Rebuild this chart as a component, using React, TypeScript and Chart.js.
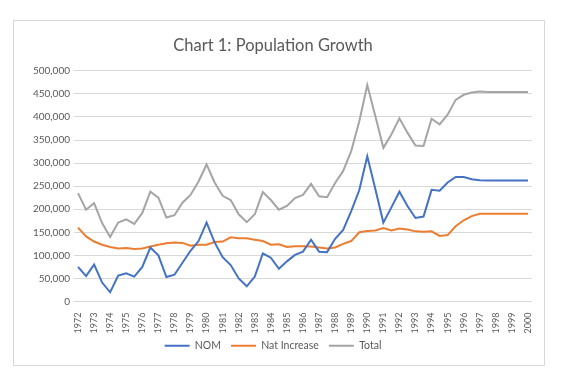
import { useEffect, useRef } from "react";
import { Chart, registerables } from "chart.js";

Chart.register(...registerables);

const categories = [
  "1972", "", "1973", "", "1974", "", "1975", "", "1976", "", "1977", "", "1978", "", "1979", "",
  "1980", "", "1981", "", "1982", "", "1983", "", "1984", "", "1985", "", "1986", "", "1987", "",
  "1988", "", "1989", "", "1990", "", "1991", "", "1992", "", "1993", "", "1994", "", "1995", "",
  "1996", "", "1997", "", "1998", "", "1999", "", "2000",
];

const nomValues = [
  75000, 55000, 80000, 41000, 20000, 56000, 61000, 54000, 75000, 117000, 100000, 53000, 58000, 84000, 110000, 131000,
  171000, 128000, 96000, 79000, 50000, 33000, 54000, 104000, 95000, 71000, 87000, 101000, 108000, 134000, 108000, 107000,
  136000, 155000, 196000, 241000, 315000, 244000, 171000, 204000, 238000, 207000, 181000, 184000, 242000, 240000, 258000, 270000,
  270000, 265000, 263000, 262000, 262000, 262000, 262000, 262000, 262000,
];

const natIncreaseValues = [
  160000, 141000, 130000, 123000, 118000, 115000, 116000, 114000, 115000, 119000, 123000, 126000, 128000, 127000, 121000, 123000,
  123000, 129000, 130000, 139000, 137000, 137000, 134000, 131000, 123000, 124000, 118000, 120000, 120000, 119000, 117000, 115000,
  117000, 125000, 131000, 150000, 153000, 154000, 159000, 154000, 158000, 156000, 152000, 151000, 152000, 142000, 144000, 163000,
  176000, 185000, 190000, 190000, 190000, 190000, 190000, 190000, 190000,
];

const totalValues = [
  235000, 199000, 213000, 170000, 140000, 171000, 178000, 168000, 192000, 238000, 225000, 182000, 187000, 214000, 231000, 260000,
  297000, 258000, 229000, 220000, 189000, 172000, 189000, 237000, 220000, 199000, 207000, 224000, 231000, 255000, 228000, 226000,
  257000, 283000, 326000, 390000, 469000, 402000, 333000, 362000, 397000, 366000, 338000, 337000, 396000, 384000, 405000, 437000,
  448000, 453000, 455000, 454000, 454000, 454000, 454000, 454000, 454000,
];

const seriesNames = ["NOM", "Nat Increase", "Total"];
const seriesColors = ["#4472C4", "#ED7D31", "#A5A5A5"];
const yMin = 0;
const yMax = 500000;
const yStep = 50000;

const FONT = "Lato";
const TEXT = "#595959";

export default function App() {
  const ref = useRef<HTMLCanvasElement>(null);

  useEffect(() => {
    const values = [nomValues, natIncreaseValues, totalValues];
    const chart = new Chart(ref.current!, {
      type: "line",
      data: {
        labels: categories,
        datasets: values.map((d, i) => ({
          label: seriesNames[i],
          data: d,
          borderColor: seriesColors[i],
          backgroundColor: seriesColors[i],
          borderWidth: 2,
          pointRadius: 0,
          pointStyle: "line",
          tension: 0,
          fill: false,
        })),
      },
      options: {
        animation: false,
        responsive: false,
        devicePixelRatio: 1,
        layout: { padding: { left: 0, right: 12, top: 0, bottom: 4 } },
        plugins: {
          title: {
            display: true,
            text: "Chart 1: Population Growth",
            color: TEXT,
            font: { family: FONT, size: 16.5, weight: "normal" },
            padding: { top: 15, bottom: 15 },
          },
          legend: {
            position: "bottom",
            labels: {
              usePointStyle: true,
              pointStyle: "line",
              pointStyleWidth: 25,
              boxWidth: 25,
              color: TEXT,
              font: { family: FONT, size: 10.5 },
              padding: 10,
            },
          },
          tooltip: { enabled: false },
        },
        scales: {
          x: {
            offset: true,
            grid: { display: false },
            border: { display: false },
            ticks: {
              autoSkip: false,
              minRotation: 90,
              maxRotation: 90,
              color: TEXT,
              font: { family: FONT, size: 9 },
              padding: 3,
            },
            afterFit: (s: any) => {
              s.height = 29;
              s._computeLabelArea = () => undefined;
            },
          },
          y: {
            min: yMin,
            max: yMax,
            ticks: {
              stepSize: yStep,
              color: TEXT,
              font: { family: FONT, size: 10 },
              padding: 4,
              callback: (v: any) => Number(v).toLocaleString("en-US"),
            },
            grid: { color: "#D9D9D9", drawTicks: false, lineWidth: 1 },
            border: { display: false },
            afterFit: (s: any) => {
              s.width = 60;
            },
          },
        },
      },
    });
    return () => chart.destroy();
  }, []);

  return (
    <div style={{ position: "fixed", left: 0, top: 0, width: 564, height: 382, background: "#fff" }}>
      <div
        style={{
          position: "absolute",
          left: 13,
          top: 20,
          width: 532,
          height: 346,
          boxSizing: "border-box",
          border: "1px solid #D9D9D9",
        }}
      >
        <canvas ref={ref} width={530} height={344} style={{ display: "block", width: 530, height: 344 }} />
      </div>
    </div>
  );
}
